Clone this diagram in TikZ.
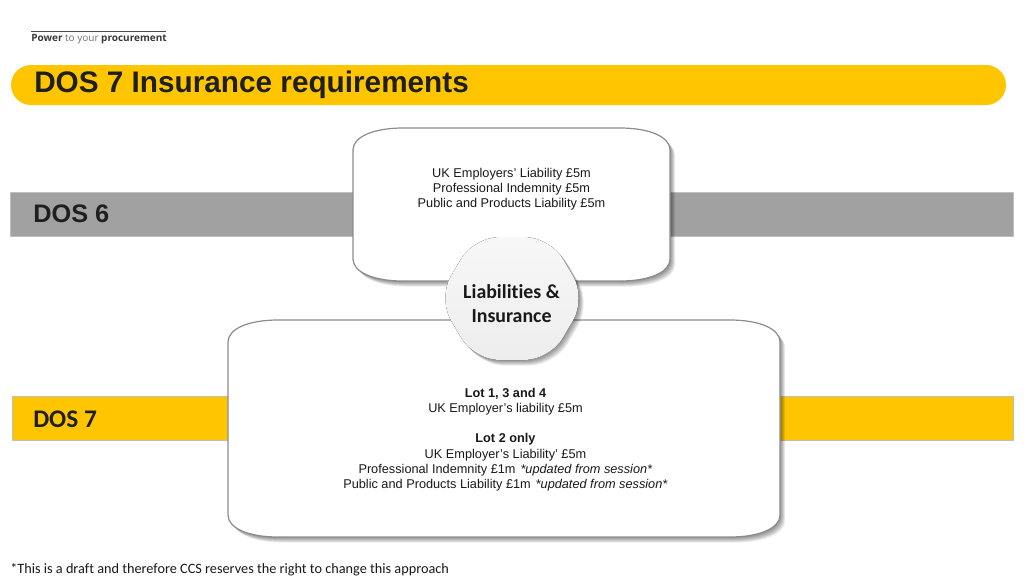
\documentclass[tikz,border=0pt]{standalone}
\usepackage{fontspec}
\setmainfont{Liberation Sans}
\newfontfamily\calibri[Ligatures=NoCommon]{Carlito}
\tikzstyle{titlebar}=[fill=barYellow,rounded corners=15pt]
\tikzstyle{bodytext}=[align=center,font=\fontsize{9.55}{11.4}\selectfont,text=black!90]
\tikzstyle{bandlabel}=[anchor=west,inner sep=0pt,text=black!88]
\definecolor{barYellow}{HTML}{FFC600}
\definecolor{bandGrey}{HTML}{A1A1A1}
\definecolor{edgeGrey}{HTML}{8C8C8C}
\newcommand{\softbox}[4]{ % Syntax: {left}{top}{right}{bottom}
\def\boxpath{(#1,#2+22) .. controls (#1,#2+9) and (#1+20,#2) .. (#1+50,#2) -- (#3-50,#2) .. controls (#3-20,#2) and (#3,#2+9) .. (#3,#2+22) -- (#3,#4-22) .. controls (#3,#4-9) and (#3-20,#4) .. (#3-50,#4) -- (#1+50,#4) .. controls (#1+20,#4) and (#1,#4-9) .. (#1,#4-22) -- cycle}
\foreach \i in {1,...,7} {
  \fill[black,opacity=0.07,xshift=\i*0.55pt,yshift=-\i*0.6pt] \boxpath;
}
\draw[edgeGrey,line width=0.9pt,fill=white] \boxpath;
}
\newcommand{\hexpath}{(474,237) -- (550,237) -- (586,298) -- (550,360) -- (474,360) -- (438,298) -- cycle}
\begin{document}
\begin{tikzpicture}[x=0.75pt,y=-0.75pt]
	\useasboundingbox (0,0) rectangle (1024,576);
	\fill[white] (0,0) rectangle (1024,576);
	% logo
	\draw[black!70,line width=0.5pt] (31,31) -- (166,31);
	\node[anchor=west,inner sep=0pt,text=black!78] (logo) at (31,39.5) {\fontspec{Open Sans}\fontsize{7.5}{8}\selectfont\textbf{Power} {\color{black!55}to your} \textbf{procurement}};
	% title
	\fill[titlebar] (11,65) rectangle (1006,105);
	\node[bandlabel,font=\bfseries\fontsize{22.3}{24}\selectfont] (title) at (34,84.5) {DOS 7 Insurance requirements};
	% bands
	\fill[bandGrey] (10,192) rectangle (1013,236);
	\draw[black!25,line width=0.4pt] (10,192) rectangle (1013,236);
	\fill[barYellow] (12,396) rectangle (1013,440);
	\draw[black!25,line width=0.4pt] (12,396) rectangle (1013,440);
	\node[bandlabel,font=\bfseries\fontsize{19}{20}\selectfont] (dossix) at (33,214) {DOS 6};
	\node[bandlabel,font=\calibri\bfseries\fontsize{19}{20}\selectfont] (dosseven) at (33,419) {DOS 7};
	% boxes
	\softbox{353}{128}{670}{281}
	\softbox{228}{320}{780}{537}
	\node[bodytext] (oldcover) at (511.5,189) {UK Employers’ Liability £5m\\Professional Indemnity £5m\\Public and Products Liability £5m};
	\node[bodytext] (newcover) at (505.5,439.5) {\textbf{Lot 1, 3 and 4}\\UK Employer’s liability £5m\\[11.4pt]\textbf{Lot 2 only}\\UK Employer’s Liability’ £5m\\Professional Indemnity £1m\hspace{1pt} \textit{*updated from session*}\\Public and Products Liability £1m\hspace{1pt} \textit{*updated from session*}};
	% hexagon
	\foreach \i in {1,...,7} {
		\fill[black,opacity=0.07,rounded corners=19pt,xshift=\i*0.55pt,yshift=-\i*0.6pt] \hexpath;
	}
	\fill[top color=black!3,bottom color=black!7,rounded corners=19pt] \hexpath;
	\node[align=center,font=\calibri\bfseries\fontsize{14.9}{18}\selectfont,text=black!90] (liab) at (511.5,304) {Liabilities \&\\Insurance};
	% footnote
	\node[anchor=west,inner sep=0pt,font=\calibri\fontsize{10.7}{12}\selectfont,text=black!90] (note) at (10,569.5) {*This is a draft and therefore CCS reserves the right to change this approach};
\end{tikzpicture}
\end{document}
